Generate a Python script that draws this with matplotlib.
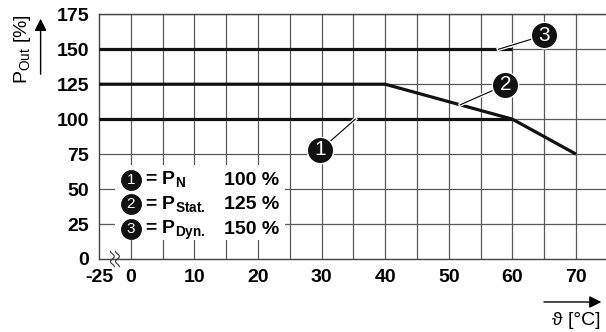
import numpy as np
import matplotlib
matplotlib.use('Agg')
import matplotlib.pyplot as plt
import matplotlib.patheffects as pe
from matplotlib.patches import Rectangle, FancyArrowPatch

plt.rcParams['font.family'] = ['Liberation Sans', 'DejaVu Sans']
plt.rcParams['mathtext.fontset'] = 'custom'
plt.rcParams['mathtext.rm'] = 'Liberation Sans'
plt.rcParams['mathtext.bf'] = 'Liberation Sans:bold'

# curves (x = -5 stands for the broken axis start at -25 degC)
temp_n = [-5, 60]
p_n = [100, 100]
temp_stat = [-5, 40, 60, 70]
p_stat = [125, 125, 100, 75]
temp_dyn = [-5, 60]
p_dyn = [150, 150]

xticks = [-5, 0, 10, 20, 30, 40, 50, 60, 70]
xlabels = ['-25', '0', '10', '20', '30', '40', '50', '60', '70']
yticks = [0, 25, 50, 75, 100, 125, 150, 175]

# callouts: number, circle position, point on curve
callouts = [('1', 29.8, 78, 35.3, 100),
            ('2', 58.9, 124.5, 51.8, 110.3),
            ('3', 65.0, 160, 57.8, 150)]

legend_rows = [('1', r'= P$_{\mathbf{N}}$', '100 %'),
               ('2', r'= P$_{\mathbf{Stat.}}$', '125 %'),
               ('3', r'= P$_{\mathbf{Dyn.}}$', '150 %')]

fig = plt.figure(figsize=(6.06, 3.32), dpi=100)
ax = fig.add_axes([0.1634, 0.2199, 0.8396, 0.737])
ax.set_xlim(-5, 75)
ax.set_ylim(0, 175)

gc = '#595959'
for x in np.arange(0, 75, 5):
    ax.axvline(x, color=gc, lw=0.9, zorder=1)
for y in yticks[1:]:
    ax.axhline(y, color=gc, lw=0.9, zorder=1)
for s in ['left', 'bottom', 'top']:
    ax.spines[s].set_color('#444444')
    ax.spines[s].set_linewidth(1.0)
ax.spines['right'].set_visible(False)

ax.set_xticks(xticks)
ax.set_xticklabels(xlabels)
ax.set_yticks(yticks)
ax.tick_params(length=0, labelsize=14, pad=7)
for lab in ax.get_xticklabels() + ax.get_yticklabels():
    lab.set_fontweight('bold')

# curves
for tx, py in [(temp_n, p_n), (temp_stat, p_stat), (temp_dyn, p_dyn)]:
    ax.plot(tx, py, color='#111111', lw=2.3, zorder=3, solid_capstyle='butt')

# callouts
for num, cx, cy, px, py in callouts:
    ax.plot([cx, px], [cy, py], color='black', lw=0.8, zorder=4,
            path_effects=[pe.Stroke(linewidth=2.6, foreground='white'), pe.Normal()])
    ax.plot(cx, cy, 'o', ms=19, color='#111111', mec='white', mew=1.0, zorder=5)
    ax.text(cx, cy, num, color='white', fontsize=15, ha='center', va='center', zorder=6)

# legend box
ax.add_patch(Rectangle((-2.5, 13.5), 26.8, 53.5, facecolor='white', edgecolor='none', zorder=2))
base_y = [52.9, 35.5, 17.9]
for (num, lab, pct), by in zip(legend_rows, base_y):
    ax.plot(0, by + 3.8, 'o', ms=14, color='#111111', zorder=5)
    ax.text(0, by + 3.8, num, color='white', fontsize=11, ha='center', va='center', zorder=6)
    ax.text(2.3, by, lab, fontsize=14, fontweight='bold', ha='left', va='baseline', zorder=6)
    ax.text(23.3, by, pct, fontsize=14, fontweight='bold', ha='right', va='baseline', zorder=6)

# axis break mark
t = np.linspace(-1, 1, 40)
for x0 in [-2.9, -2.1]:
    ax.plot(x0 + 0.3 * np.sin(t * np.pi * 1.5), t * 5.5, color='#333333', lw=0.8,
            clip_on=False, zorder=6)

# axis labels with arrows
fig.text(0.037, 0.852, r'P$_{\mathrm{Out}}$ [%]', rotation=90, fontsize=14,
         ha='center', va='center')
fig.patches.append(FancyArrowPatch(
    (0.067, 0.768), (0.067, 0.952), transform=fig.transFigure,
    arrowstyle='-|>', mutation_scale=18, color='black', lw=1.0))
fig.patches.append(FancyArrowPatch(
    (0.893, 0.0904), (0.997, 0.0904), transform=fig.transFigure,
    arrowstyle='-|>', mutation_scale=18, color='black', lw=1.0))
fig.text(0.951, 0.036, 'ϑ [°C]', fontsize=14, ha='center', va='center')

fig.savefig('out.png', dpi=100)
